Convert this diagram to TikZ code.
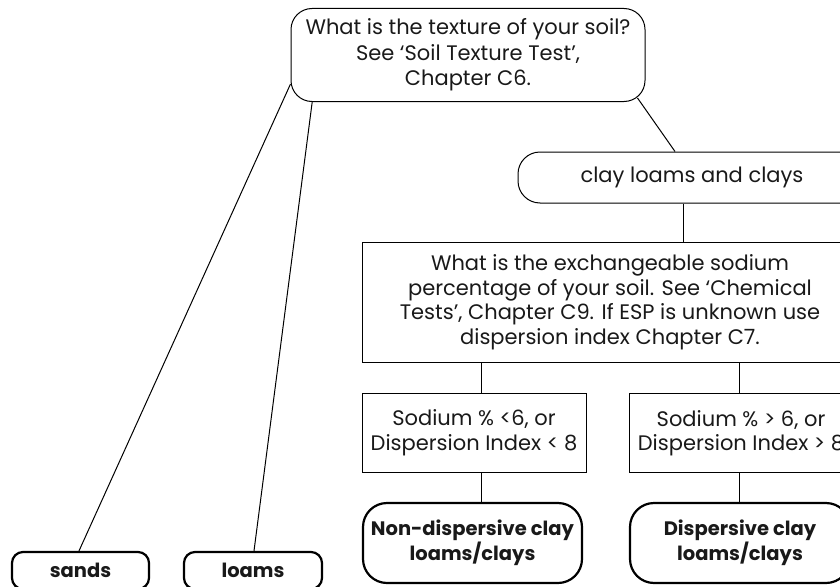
\documentclass[tikz,border=0pt]{standalone}
\usepackage{fontspec}
\setmainfont{Poppins}
\usetikzlibrary{calc}
\begin{document}
\begin{tikzpicture}[x=1pt,y=-1pt,
  txt/.style={font=\fontsize{21}{24.5}\selectfont, align=center, inner sep=0pt, text=black!90},
  thinbox/.style={draw=black, line width=1pt, txt},
  thickbox/.style={draw=black, line width=2.2pt, txt, font=\fontsize{19.5}{23.5}\selectfont\bfseries},
  link/.style={draw=black, line width=1pt}]
\useasboundingbox (0,0) rectangle (840,586);
\clip (0,0) rectangle (840,586);

\node[thinbox, font=\fontsize{21}{25.5}\selectfont, rounded corners=21pt, minimum width=354pt, minimum height=93pt] (top) at (468,55)
  {What is the texture of your soil?\\ See ‘Soil Texture Test’,\\ Chapter C6.};
\node[thinbox, rounded corners=22pt, minimum width=348pt, minimum height=51pt] (clay) at (692,177.5)
  {clay loams and clays};
\node[thinbox, minimum width=496pt, minimum height=120pt] (esp) at (610,302)
  {What is the exchangeable sodium\\ percentage of your soil. See ‘Chemical\\ Tests’, Chapter C9. If ESP is unknown use\\ dispersion index Chapter C7.};
\node[thinbox, minimum width=224pt, minimum height=79pt] (sodl) at (474,432.5)
  {Sodium \% <6, or\\ Dispersion Index < 8};
\node[thinbox, minimum width=224pt, minimum height=79pt] (sodr) at (741,433)
  {Sodium \% > 6, or\\ Dispersion Index > 8};
\node[thickbox, rounded corners=24pt, minimum width=219pt, minimum height=80pt] (nondisp) at (472.5,543)
  {Non-dispersive clay\\ loams/clays};
\node[thickbox, rounded corners=24pt, minimum width=220pt, minimum height=80pt] (disp) at (740,543)
  {Dispersive clay\\ loams/clays};
\node[thickbox, rounded corners=11pt, minimum width=137pt, minimum height=37pt] (sands) at (80.5,570.5)
  {sands};
\node[thickbox, rounded corners=11pt, minimum width=138pt, minimum height=37pt] (loams) at (253,570.5)
  {loams};

% connectors
\draw[link] ([yshift=18pt]top.south west) -- ([xshift=-1.5pt]sands.north);
\draw[link] ([xshift=21.7pt]top.south west) -- ([xshift=1pt]loams.north);
\draw[link] ([xshift=-8pt,yshift=4pt]top.south east) -- ([xshift=-17pt]clay.north);
\coordinate (c1) at ([xshift=-9pt]clay.south);
\draw[link] (c1) -- (c1 |- esp.north);
\coordinate (c2) at ([xshift=7pt]sodl.north);
\draw[link] (c2 |- esp.south) -- (c2);
\draw[link] (c2 |- sodl.south) -- (c2 |- nondisp.north);
\coordinate (c3) at ([xshift=-2pt]sodr.north);
\draw[link] (c3 |- esp.south) -- (c3);
\draw[link] (c3 |- sodr.south) -- (c3 |- disp.north);
\end{tikzpicture}
\end{document}
